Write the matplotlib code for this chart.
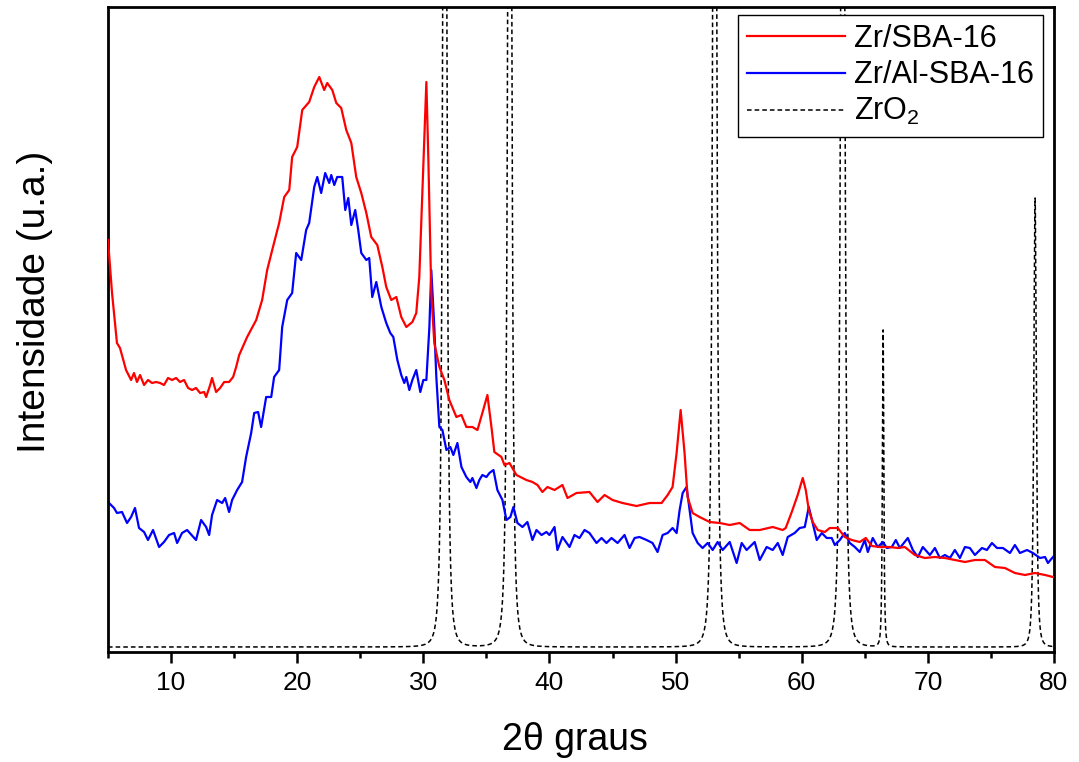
import numpy as np
import matplotlib
matplotlib.use("Agg")
import matplotlib.pyplot as plt
from matplotlib.ticker import MultipleLocator

plt.rcParams['font.family'] = ['Liberation Sans', 'DejaVu Sans']
plt.rcParams['mathtext.fontset'] = 'custom'
plt.rcParams['mathtext.rm'] = 'Liberation Sans'
plt.rcParams['mathtext.default'] = 'regular'

# Zr/SBA-16 (red)
red_x = [5.00, 5.32, 5.71, 5.95, 6.43, 6.83, 7.06, 7.30, 7.54, 7.86, 8.17, 8.49, 8.81, 9.13,
         9.44, 9.76, 10.08, 10.40, 10.71, 11.03, 11.35, 11.67, 11.98, 12.30, 12.62, 12.78,
         13.10, 13.25, 13.57, 13.89, 14.21, 14.60, 14.92, 15.16, 15.40, 16.03, 16.75, 17.22,
         17.62, 18.02, 18.57, 18.97, 19.37, 19.60, 20.00, 20.40, 20.95, 21.35, 21.75, 22.14,
         22.38, 22.78, 23.10, 23.49, 23.89, 24.29, 24.68, 25.08, 25.48, 25.87, 26.35, 26.75,
         27.06, 27.46, 27.86, 28.25, 28.65, 29.13, 29.44, 29.68, 29.92, 30.24, 30.40, 30.63,
         30.87, 31.27, 31.67, 32.06, 32.62, 33.02, 33.41, 33.89, 34.29, 34.68, 35.08, 35.40,
         35.63, 36.19, 36.43, 36.83, 37.38, 38.17, 38.65, 39.05, 39.44, 39.84, 40.40, 41.03,
         41.43, 42.14, 43.17, 43.81, 44.37, 45.00, 45.79, 46.90, 47.94, 48.89, 49.37, 49.76,
         50.08, 50.40, 50.71, 50.95, 51.35, 51.90, 52.70, 53.49, 54.29, 55.08, 55.87, 56.67,
         57.70, 58.49, 58.73, 59.21, 59.68, 60.08, 60.32, 60.56, 60.87, 61.27, 61.83, 62.22,
         62.86, 63.41, 63.97, 64.60, 65.08, 65.56, 66.19, 66.98, 67.62, 68.17, 68.97, 69.76,
         70.56, 71.35, 72.14, 72.94, 73.73, 74.52, 75.32, 76.11, 76.90, 77.70, 78.49, 79.29,
         79.92]
red_y = [412, 359, 309, 304, 282, 272, 279, 270, 277, 267, 272, 269, 270, 269,
         267, 274, 272, 274, 270, 272, 264, 262, 264, 259, 260, 255,
         267, 274, 260, 264, 270, 270, 275, 285, 297, 315, 332, 352,
         382, 402, 429, 455, 462, 495, 505, 542, 550, 565, 575, 562,
         569, 562, 549, 544, 522, 509, 475, 459, 439, 415, 407, 385,
         365, 352, 355, 335, 325, 330, 339, 375, 459, 570, 492, 359,
         309, 285, 272, 252, 235, 237, 225, 225, 222, 239, 257, 225,
         200, 195, 187, 189, 177, 172, 170, 167, 160, 165, 162, 167,
         154, 159, 160, 150, 157, 152, 149, 146, 149, 149, 157, 165,
         199, 242, 199, 155, 139, 135, 130, 129, 127, 129, 122, 122,
         125, 122, 124, 140, 157, 174, 162, 142, 130, 122, 120, 124,
         124, 115, 112, 110, 114, 106, 105, 105, 104, 105, 97, 94,
         95, 94, 92, 90, 92, 92, 85, 84, 79, 77, 79, 77,
         75]

# Zr/Al-SBA-16 (blue)
blue_x = [5.08, 5.48, 5.71, 6.11, 6.51, 6.83, 7.14, 7.46, 7.86, 8.17, 8.57, 9.05, 9.44, 9.84,
          10.24, 10.48, 10.87, 11.27, 11.98, 12.38, 12.78, 13.02, 13.25, 13.65, 14.05, 14.29,
          14.60, 14.84, 15.24, 15.63, 15.95, 16.35, 16.59, 16.90, 17.14, 17.54, 17.94, 18.17,
          18.57, 18.81, 19.21, 19.60, 19.92, 20.32, 20.71, 20.95, 21.35, 21.59, 21.90, 22.22,
          22.54, 22.70, 22.94, 23.17, 23.57, 23.81, 24.05, 24.29, 24.60, 24.84, 25.08, 25.48,
          25.71, 25.95, 26.27, 26.67, 27.06, 27.38, 27.62, 27.94, 28.25, 28.49, 28.65, 28.89,
          29.13, 29.44, 29.76, 30.00, 30.24, 30.48, 30.63, 30.87, 31.03, 31.27, 31.51, 31.83,
          32.14, 32.38, 32.70, 33.02, 33.41, 33.73, 33.89, 34.21, 34.44, 34.68, 35.00, 35.24,
          35.56, 35.87, 36.27, 36.59, 36.90, 37.14, 37.46, 37.86, 38.25, 38.65, 38.97, 39.37,
          39.76, 40.00, 40.40, 40.63, 41.03, 41.59, 41.98, 42.38, 42.78, 43.17, 43.73, 44.13,
          44.52, 44.92, 45.40, 45.95, 46.35, 46.75, 47.14, 47.70, 48.17, 48.57, 48.97, 49.37,
          49.76, 50.08, 50.32, 50.56, 50.87, 51.11, 51.35, 51.75, 52.14, 52.54, 52.94, 53.33,
          53.73, 54.29, 54.84, 55.24, 55.63, 56.27, 56.67, 57.22, 57.70, 58.10, 58.49, 58.89,
          59.44, 59.84, 60.24, 60.56, 60.87, 61.19, 61.59, 61.98, 62.38, 62.62, 63.02, 63.41,
          63.81, 64.21, 64.60, 65.00, 65.24, 65.63, 66.03, 66.43, 66.75, 67.14, 67.46, 67.78,
          68.41, 68.81, 69.21, 69.60, 70.16, 70.56, 70.95, 71.35, 71.75, 72.14, 72.54, 72.94,
          73.33, 73.73, 74.29, 74.68, 75.08, 75.48, 75.95, 76.51, 76.90, 77.30, 77.86, 78.33,
          78.89, 79.29, 79.52, 79.92]
blue_y = [149, 144, 139, 140, 129, 135, 144, 124, 120, 112, 122, 105, 110, 117,
          119, 109, 119, 122, 112, 132, 125, 117, 137, 152, 149, 154,
          140, 152, 162, 170, 195, 219, 239, 240, 225, 255, 255, 275,
          282, 325, 352, 359, 399, 392, 422, 429, 465, 475, 459, 479,
          469, 477, 467, 475, 475, 442, 454, 427, 442, 422, 399, 392,
          394, 355, 370, 345, 329, 319, 315, 292, 277, 269, 275, 262,
          272, 282, 260, 272, 272, 325, 382, 325, 275, 225, 222, 202,
          205, 197, 209, 185, 175, 170, 174, 164, 172, 177, 175, 179,
          182, 162, 152, 132, 135, 145, 129, 125, 130, 112, 122, 117,
          120, 117, 125, 102, 115, 105, 117, 114, 122, 119, 109, 114,
          109, 114, 109, 117, 104, 114, 115, 112, 109, 100, 117, 119,
          124, 119, 142, 159, 165, 142, 119, 109, 104, 109, 102, 110,
          102, 110, 89, 109, 102, 110, 92, 105, 102, 109, 97, 115,
          119, 124, 125, 145, 129, 112, 119, 114, 114, 107, 112, 119,
          109, 105, 100, 112, 100, 114, 105, 110, 104, 105, 112, 104,
          114, 102, 95, 105, 97, 104, 94, 97, 94, 102, 94, 105,
          104, 97, 104, 102, 109, 104, 104, 99, 107, 99, 102, 99,
          94, 95, 89, 95]

# ZrO2 reference pattern: peak positions, heights and widths
zro2_pos = [31.70, 36.85, 53.10, 63.25, 66.45, 78.50]
zro2_height = [1500, 1500, 1500, 1500, 317, 449]
zro2_width = [0.19, 0.19, 0.19, 0.19, 0.085, 0.15]
zro2_base = 5

xx = np.arange(5, 80.0005, 0.004)
zro2 = np.full_like(xx, zro2_base, dtype=float)
for p, h, w in zip(zro2_pos, zro2_height, zro2_width):
    zro2 += h / (1 + ((xx - p) / w)**2)**1.5

fig = plt.figure(figsize=(10.79, 7.62), dpi=100)
ax = fig.add_axes([108/1079, 1 - 652/762, 946/1079, 645/762])

l3, = ax.plot(xx, zro2, color='black', lw=1.1, ls=(0, (3, 2)), label='ZrO$_2$', zorder=1)
l1, = ax.plot(red_x, red_y, color='#ff0000', lw=1.6, label='Zr/SBA-16', zorder=3)
l2, = ax.plot(blue_x, blue_y, color='#0000ff', lw=1.6, label='Zr/Al-SBA-16', zorder=2)

ax.set_xlim(5, 80)
ax.set_ylim(0, 645)
ax.xaxis.set_major_locator(MultipleLocator(10))
ax.xaxis.set_minor_locator(MultipleLocator(5))
ax.set_yticks([])
ax.tick_params(axis='x', which='major', direction='out', length=8, width=1.8,
               labelsize=19, pad=6)
ax.tick_params(axis='x', which='minor', direction='out', length=4, width=1.8)
for s in ax.spines.values():
    s.set_linewidth(2.0)

ax.set_xlabel('2θ graus', fontsize=27, va='center')
ax.xaxis.set_label_coords(0.494, -0.136)
ax.set_ylabel('Intensidade (u.a.)', fontsize=28, va='center')
ax.yaxis.set_label_coords(-0.077, 0.543)

handles = [l1, l2, l3]
leg = ax.legend(handles, [h.get_label() for h in handles],
                loc='upper right', bbox_to_anchor=(1043/1079, 1 - 15/762),
                bbox_transform=fig.transFigure, fontsize=22, frameon=True,
                fancybox=False, edgecolor='black', framealpha=1,
                handlelength=3.2, handletextpad=0.3, borderpad=0.3,
                labelspacing=0.2, borderaxespad=0)
leg.get_frame().set_linewidth(1.0)

fig.savefig('out.png', dpi=100)
